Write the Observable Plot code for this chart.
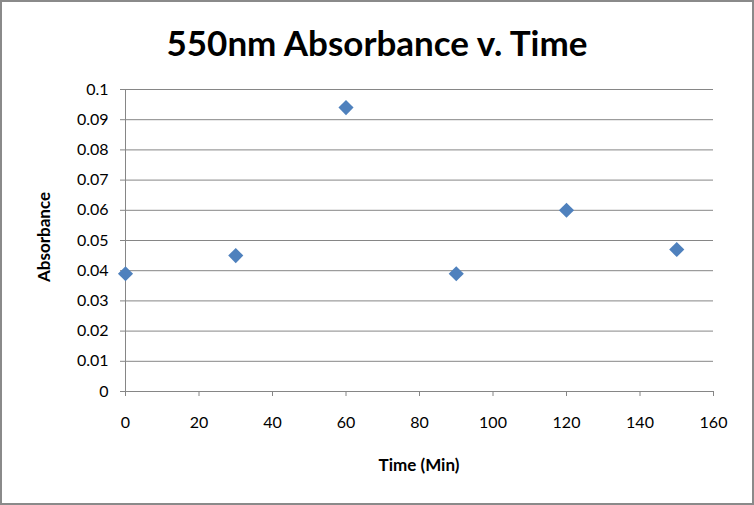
<!DOCTYPE html>
<html>
<head>
<meta charset="utf-8">
<script src="https://cdn.jsdelivr.net/npm/d3@7"></script>
<script src="https://cdn.jsdelivr.net/npm/@observablehq/plot@0.6"></script>
<style>
  html, body { margin: 0; padding: 0; background: #fff; }
  #wrap { position: relative; width: 754px; height: 505px; overflow: hidden; font-family: Lato, "Open Sans", sans-serif; }
  #border { position: absolute; left: 0; top: 0; width: 754px; height: 505px; box-sizing: border-box; border: 2px solid #8a8a8a; pointer-events: none; }
  #title { position: absolute; left: 0; width: 754px; top: 21px; text-align: center; font-size: 35px; font-weight: bold; color: #000; }
  #xlabel { position: absolute; left: 125px; width: 588px; top: 454px; text-align: center; font-size: 17px; font-weight: bold; }
  #ylabel { position: absolute; left: 43px; top: 237px; transform: translate(-50%, -50%) rotate(-90deg); font-size: 17px; font-weight: bold; white-space: nowrap; }
  #chart { position: absolute; left: 0; top: 0; }
</style>
</head>
<body>
<div id="wrap">
  <div id="chart"></div>
  <div id="title">550nm Absorbance v. Time</div>
  <div id="xlabel">Time (Min)</div>
  <div id="ylabel">Absorbance</div>
  <div id="border"></div>
</div>
<script>
const timeMin = [0, 30, 60, 90, 120, 150];
const absorbance = [0.039, 0.045, 0.094, 0.039, 0.060, 0.047];
const xTicks = [0, 20, 40, 60, 80, 100, 120, 140, 160];
const yTicks = [0, 0.01, 0.02, 0.03, 0.04, 0.05, 0.06, 0.07, 0.08, 0.09, 0.1];
const yTickLabels = ["0", "0.01", "0.02", "0.03", "0.04", "0.05", "0.06", "0.07", "0.08", "0.09", "0.1"];

const data = timeMin.map((t, i) => ({t, a: absorbance[i]}));
const gray = "#868686";

const chart = Plot.plot({
  width: 754,
  height: 505,
  marginLeft: 125,
  marginRight: 41,
  marginTop: 89,
  marginBottom: 114,
  style: {fontFamily: "Lato, 'Open Sans', sans-serif", fontSize: "16px", background: "transparent", overflow: "visible"},
  x: {domain: [0, 160], label: null},
  y: {domain: [0, 0.1], label: null},
  marks: [
    Plot.ruleY(yTicks, {stroke: gray, strokeWidth: 1}),
    Plot.ruleX([0], {stroke: gray, strokeWidth: 1}),
    Plot.axisY({ticks: yTicks, tickSize: 5, tickFormat: () => "", color: gray, label: null}),
    Plot.axisY({ticks: yTicks, tickSize: 0, tickPadding: 17, tickFormat: d => yTickLabels[yTicks.indexOf(d)], color: "black", label: null}),
    Plot.axisX({ticks: xTicks, tickSize: 5, tickFormat: () => "", color: gray, label: null}),
    Plot.axisX({ticks: xTicks, tickSize: 0, tickPadding: 25, tickFormat: d => String(d), color: "black", label: null}),
    Plot.dot(data, {x: "t", y: "a", symbol: "diamond2", r: 6.8, fill: "#4F81BD", stroke: "none"})
  ]
});
document.getElementById("chart").appendChild(chart);
</script>
</body>
</html>
